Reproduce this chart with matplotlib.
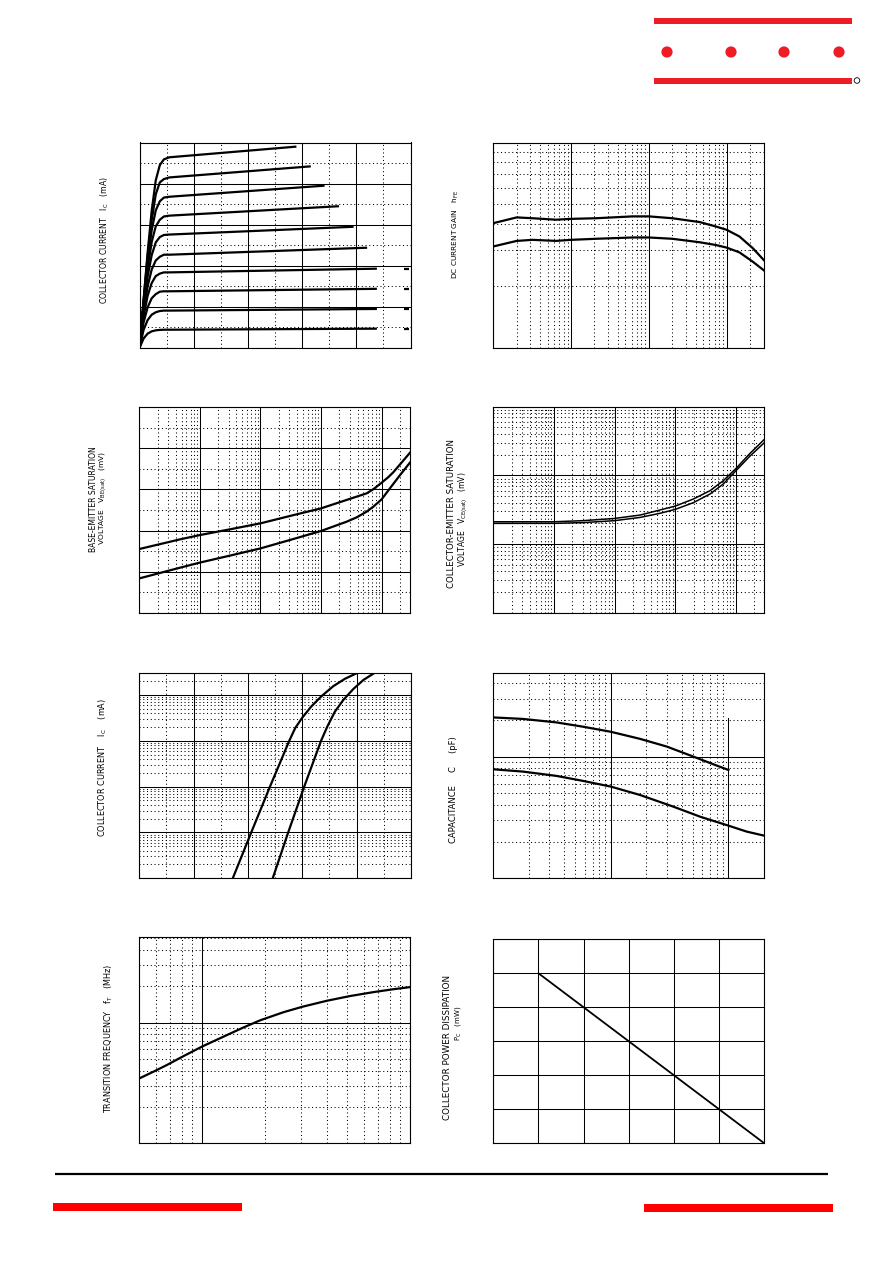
import numpy as np
import matplotlib
matplotlib.use("Agg")
import matplotlib.pyplot as plt
from matplotlib.ticker import MultipleLocator, LogLocator, FixedLocator, NullLocator
from matplotlib.patches import Rectangle, Circle

W, H = 892, 1263

# ---------------- data ----------------
# Panel 1: Ic (mA) vs Vce (V), family of curves
p1_x_knee = [0, 0.15, 0.3, 0.45, 0.6, 0.75, 0.9, 1.1]
p1_y_knee = [
    [0, 11.6, 23.2, 33.4, 40.8, 44.5, 45.9, 46.4],
    [0, 11.6, 22.4, 31.1, 37.4, 40.3, 41.1, 41.5],
    [0, 11.0, 21.0, 28.7, 33.5, 35.7, 36.6, 36.8],
    [0, 10.6, 19.3, 25.8, 29.6, 31.2, 32.0, 32.2],
    [0, 9.9, 17.4, 22.6, 25.7, 27.0, 27.5, 27.6],
    [0, 8.9, 15.0, 19.1, 21.3, 22.2, 22.7, 22.7],
    [0, 7.7, 12.7, 15.8, 17.5, 18.1, 18.4, 18.4],
    [0, 6.2, 9.9, 12.1, 13.1, 13.7, 13.8, 13.8],
    [0, 4.4, 6.8, 8.1, 8.7, 9.0, 9.1, 9.1],
    [0, 2.3, 3.5, 4.05, 4.3, 4.4, 4.45, 4.45],
]
p1_x_end = [5.79, 6.32, 6.83, 7.36, 7.90, 8.40, 8.76, 8.76, 8.76, 8.76]
p1_y_end = [49.0, 44.2, 39.5, 34.5, 29.5, 24.4, 19.3, 14.4, 9.5, 4.7]
p1_mark_x = [9.75, 9.95]
p1_mark_y = [19.3, 14.4, 9.5, 4.7]

# Panel 2: DC current gain hFE vs Ic (mA)
p2_x = [0.1, 0.2, 0.32, 0.64, 1, 2.1, 6.2, 10, 20, 45, 73, 100, 146, 217, 300]
p2_hi = [405, 432, 428, 421, 425, 428, 437, 437, 428, 410, 390, 376, 349, 306, 268]
p2_lo = [312, 332, 336, 332, 336, 340, 345, 345, 340, 327, 317, 308, 292, 263, 239]

# Panel 3: Vbe(sat) (mV) vs Ic (mA)
p3_x_hi = [0.1, 0.469, 1.0, 3.14, 10, 30.7, 100, 264, 565, 728, 1000, 1288, 1560, 2010, 2937]
p3_hi = [310, 357, 378, 406, 435, 471, 508, 549, 581, 601, 633, 660, 684, 722, 779]
p3_x_lo = [0.1, 0.469, 1.0, 3.14, 10, 30.7, 100, 264, 386, 565, 728, 1000, 1374, 2010, 2937]
p3_lo = [167, 219, 244, 278, 313, 354, 398, 443, 464, 492, 516, 552, 606, 670, 731]

# Panel 4: Vce(sat) (mV) vs Ic (mA)
p4_x = [0.1, 1, 3.04, 10, 26.2, 55.8, 100, 198, 373, 618, 1000, 1702, 2930]
p4_a = [21.1, 21.1, 21.9, 23.6, 26.4, 31.3, 35.7, 45.2, 59.8, 83.6, 126, 209, 334]
p4_b = [20.0, 20.0, 20.5, 21.9, 24.4, 28.0, 32.0, 40.0, 53.5, 74.8, 117, 191, 299]

# Panel 5: Ic (mA) vs Vbe (V)
p5_x_l = [0.344, 0.412, 0.481, 0.552, 0.574, 0.600, 0.632, 0.669, 0.714, 0.757, 0.800]
p5_y_l = [0.01, 0.1, 1, 10, 19, 32, 55, 92, 155, 225, 297]
p5_x_r = [0.491, 0.548, 0.607, 0.669, 0.692, 0.720, 0.751, 0.788, 0.825, 0.865]
p5_y_r = [0.01, 0.1, 1, 10, 20.4, 43.3, 77.8, 135, 212, 300]

# Panel 6: Capacitance (pF) vs reverse voltage (V)
p6_x_hi = [0.1, 0.18, 0.346, 0.583, 1.0, 1.77, 2.99, 5.04, 7.45, 10.0]
p6_hi = [21.0, 20.4, 19.1, 17.6, 16.0, 14.0, 12.1, 10.0, 8.65, 7.77]
p6_x_lo = [0.1, 0.18, 0.346, 0.583, 1.0, 1.77, 3.40, 5.74, 10.0, 14.3, 20.2]
p6_lo = [7.87, 7.53, 6.94, 6.31, 5.67, 4.84, 3.88, 3.21, 2.71, 2.42, 2.24]

# Panel 7: Transition frequency fT (MHz) vs Ic (mA)
p7_x = [0.502, 0.586, 0.679, 0.817, 1.0, 1.27, 1.585, 1.905, 2.47, 3.05, 3.98, 5.15, 6.67, 8.32, 10.0]
p7_y = [34.6, 39.3, 44.6, 52.9, 63.3, 76.6, 91.3, 104.6, 122.2, 135.7, 151.8, 166.2, 179.1, 189.3, 197.1]

# Panel 8: Pc (mW) vs Ta (C)
p8_x = [25, 150]
p8_y = [250, 0]

labels = {
    "p1": [r"COLLECTOR CURRENT   I$_{\rm C}$   (mA)"],
    "p2": [r"DC CURRENT GAIN   h$_{\rm FE}$"],
    "p3": ["BASE-EMITTER SATURATION", r"VOLTAGE   V$_{\rm BE(sat)}$   (mV)"],
    "p4": ["COLLECTOR-EMITTER SATURATION", r"VOLTAGE   V$_{\rm CE(sat)}$   (mV)"],
    "p5": [r"COLLECTOR CURRENT    I$_{\rm C}$    (mA)"],
    "p6": ["CAPACITANCE     C     (pF)"],
    "p7": [r"TRANSITION FREQUENCY   f$_{\rm T}$   (MHz)"],
    "p8": ["COLLECTOR POWER DISSIPATION", r"P$_{\rm C}$   (mW)"],
}
# (x centre, y centre, font size)
label_pos = {
    "p1": [(104.5, 240, 5.6)],
    "p2": [(456, 235, 5.3)],
    "p3": [(93.5, 499.5, 5.5), (103, 498.5, 5.4)],
    "p4": [(451.5, 514, 6.2), (463.5, 519.5, 5.5)],
    "p5": [(103, 767.5, 5.9)],
    "p6": [(453.5, 789.5, 6.0)],
    "p7": [(109, 1038.5, 5.9)],
    "p8": [(447.5, 1048, 6.3), (458, 1023.5, 5.0)],
}

# ---------------- figure ----------------
fig = plt.figure(figsize=(W / 100, H / 100), dpi=100)
fig.patch.set_facecolor("white")

bg = fig.add_axes([0, 0, 1, 1])
bg.set_xlim(0, W)
bg.set_ylim(H, 0)
bg.axis("off")

HEAD_RED = "#EE1C25"
FOOT_RED = "#FF0000"
bg.add_patch(Rectangle((654, 18), 198, 6, color=HEAD_RED, lw=0))
bg.add_patch(Rectangle((654, 78), 198, 6, color=HEAD_RED, lw=0))
for cx in [667, 731, 784, 839]:
    bg.add_patch(Circle((cx, 52), 5.6, color=HEAD_RED, lw=0))
bg.add_patch(Circle((857, 80.5), 2.8, fill=False, ec="black", lw=0.6))
bg.plot([55, 828], [1174, 1174], color="black", lw=1.6, solid_capstyle="butt")
bg.add_patch(Rectangle((53, 1203), 189, 8, color=FOOT_RED, lw=0))
bg.add_patch(Rectangle((644, 1204), 189, 8, color=FOOT_RED, lw=0))


def panel(box):
    x0, y0, x1, y1 = box
    ax = fig.add_axes([x0 / W, 1 - y1 / H, (x1 - x0) / W, (y1 - y0) / H])
    ax.set_facecolor("none")
    for s in ax.spines.values():
        s.set_linewidth(0.8)
        s.set_color("black")
    return ax


DOT = (0, (1, 2.6))


def finish(ax, major=True, minor=True):
    ax.tick_params(which="both", length=0, labelbottom=False, labelleft=False)
    if major:
        ax.grid(which="major", color="black", lw=0.75, ls="-")
    if minor:
        ax.grid(which="minor", color="black", lw=0.75, ls=DOT)
    ax.set_axisbelow(True)


def logloc():
    return LogLocator(base=10, numticks=100)


def logminor():
    return LogLocator(base=10, subs=np.arange(2, 10), numticks=100)


CLW = 1.6

# Panel 1
ax = panel((139.5, 142.5, 410.5, 348))
ax.set_xlim(0, 10)
ax.set_ylim(0, 50)
ax.xaxis.set_major_locator(MultipleLocator(2))
ax.xaxis.set_minor_locator(MultipleLocator(1))
ax.yaxis.set_major_locator(MultipleLocator(10))
ax.yaxis.set_minor_locator(MultipleLocator(5))
finish(ax)
for yk, xe, ye in zip(p1_y_knee, p1_x_end, p1_y_end):
    ax.plot(p1_x_knee + [xe], yk + [ye], color="black", lw=CLW, solid_capstyle="butt")
for ym in p1_mark_y:
    ax.plot(p1_mark_x, [ym, ym], color="black", lw=CLW, solid_capstyle="butt")

# Panel 2
ax = panel((493.3, 142.5, 764.3, 348))
ax.set_xscale("log")
ax.set_yscale("log")
ax.set_xlim(0.1, 305)
ax.set_ylim(100, 1000)
ax.xaxis.set_major_locator(logloc())
ax.xaxis.set_minor_locator(logminor())
ax.yaxis.set_major_locator(logloc())
ax.yaxis.set_minor_locator(logminor())
finish(ax)
ax.plot(p2_x, p2_hi, color="black", lw=CLW)
ax.plot(p2_x, p2_lo, color="black", lw=CLW)

# Panel 3
ax = panel((139.3, 407.3, 410, 612.7))
ax.set_xscale("log")
ax.set_xlim(0.1, 2937)
ax.set_ylim(0, 1000)
ax.xaxis.set_major_locator(logloc())
ax.xaxis.set_minor_locator(logminor())
ax.yaxis.set_major_locator(MultipleLocator(200))
ax.yaxis.set_minor_locator(MultipleLocator(100))
finish(ax)
ax.plot(p3_x_hi, p3_hi, color="black", lw=CLW)
ax.plot(p3_x_lo, p3_lo, color="black", lw=CLW)

# Panel 4
ax = panel((493.3, 406.7, 764.3, 612.7))
ax.set_xscale("log")
ax.set_yscale("log")
ax.set_xlim(0.1, 2930)
ax.set_ylim(1, 1000)
ax.xaxis.set_major_locator(logloc())
ax.xaxis.set_minor_locator(logminor())
ax.yaxis.set_major_locator(logloc())
ax.yaxis.set_minor_locator(logminor())
finish(ax)
ax.plot(p4_x, p4_a, color="black", lw=1.1)
ax.plot(p4_x, p4_b, color="black", lw=1.1)

# Panel 5
ax = panel((139.3, 672.7, 411, 878.3))
ax.set_yscale("log")
ax.set_xlim(0, 1.0)
ax.set_ylim(0.01, 305)
ax.xaxis.set_major_locator(MultipleLocator(0.2))
ax.xaxis.set_minor_locator(MultipleLocator(0.1))
ax.yaxis.set_major_locator(logloc())
ax.yaxis.set_minor_locator(logminor())
finish(ax)
ax.plot(p5_x_l, p5_y_l, color="black", lw=CLW)
ax.plot(p5_x_r, p5_y_r, color="black", lw=CLW)

# Panel 6
ax = panel((493.3, 673.3, 764.3, 878.3))
ax.set_xscale("log")
ax.set_yscale("log")
ax.set_xlim(0.1, 20.2)
ax.set_ylim(1, 48.4)
ax.xaxis.set_major_locator(FixedLocator([1]))
ax.xaxis.set_minor_locator(logminor())
ax.yaxis.set_major_locator(logloc())
ax.yaxis.set_minor_locator(logminor())
finish(ax)
ax.axvline(10, ymin=0, ymax=0.78, color="black", lw=0.75, zorder=1)
ax.plot(p6_x_hi, p6_hi, color="black", lw=CLW)
ax.plot(p6_x_lo, p6_lo, color="black", lw=CLW)

# Panel 7
ax = panel((139.3, 937.3, 410, 1143.3))
ax.set_xscale("log")
ax.set_yscale("log")
ax.set_xlim(0.5, 10)
ax.set_ylim(10, 510)
ax.xaxis.set_major_locator(logloc())
ax.xaxis.set_minor_locator(logminor())
ax.yaxis.set_major_locator(logloc())
ax.yaxis.set_minor_locator(logminor())
finish(ax)
ax.plot(p7_x, p7_y, color="black", lw=CLW)

# Panel 8
ax = panel((493.3, 939.3, 764.3, 1143.3))
ax.set_xlim(0, 150)
ax.set_ylim(0, 300)
ax.xaxis.set_major_locator(MultipleLocator(25))
ax.yaxis.set_major_locator(MultipleLocator(50))
ax.xaxis.set_minor_locator(NullLocator())
ax.yaxis.set_minor_locator(NullLocator())
finish(ax, minor=False)
ax.plot(p8_x, p8_y, color="black", lw=1.3)

# axis labels (rotated)
for key, texts in labels.items():
    for txt, (px, py, fs) in zip(texts, label_pos[key]):
        fig.text(px / W, 1 - py / H, txt, rotation=90, ha="center", va="center",
                 fontsize=fs, family="DejaVu Sans", color="black")

fig.savefig("out.png", dpi=100, facecolor="white")
